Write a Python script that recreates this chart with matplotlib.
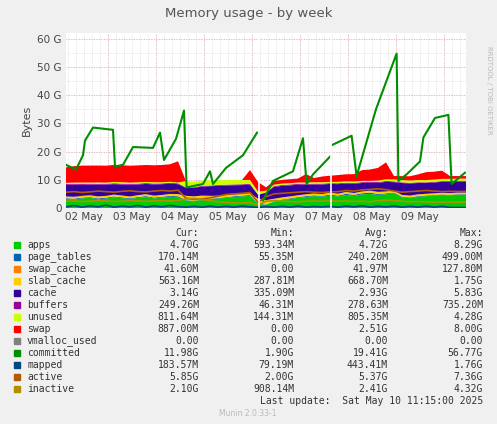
import numpy as np
import matplotlib
matplotlib.use("Agg")
import matplotlib.pyplot as plt
from matplotlib.ticker import MultipleLocator, FuncFormatter

# time in hours from Sat May 2 03:15; 4-hour samples for stacked fields
hours = list(range(0, 201, 4))
apps = [3.2, 3.0, 3.4, 3.6, 3.1, 3.3, 3.8, 3.5, 3.2, 3.6, 3.9, 3.4, 3.7, 4.0, 3.8, 2.6,
        2.4, 2.8, 3.1, 3.3, 3.6, 3.9, 4.1, 4.3, 1.5, 1.2, 2.2, 2.8, 3.2, 3.6, 3.9, 4.2,
        4.0, 4.4, 4.1, 4.6, 4.3, 4.8, 5.0, 4.6, 4.9, 5.2, 3.8, 3.6, 4.0, 4.2, 4.4, 4.6, 4.5, 4.7, 4.7]
page_tables = [0.25, 0.3, 0.28, 0.26, 0.3, 0.35, 0.3, 0.28, 0.25, 0.3, 0.32, 0.3, 0.28, 0.3, 0.35, 0.2,
               0.15, 0.18, 0.2, 0.22, 0.25, 0.28, 0.3, 0.3, 0.1, 0.08, 0.15, 0.2, 0.22, 0.25, 0.3, 0.28,
               0.3, 0.35, 0.3, 0.4, 0.35, 0.4, 0.45, 0.3, 0.28, 0.3, 0.2, 0.18, 0.2, 0.22, 0.2, 0.18, 0.17, 0.17, 0.17]
swap_cache = [0.05, 0.06, 0.04, 0.05, 0.06, 0.05, 0.04, 0.05, 0.06, 0.05, 0.04, 0.05, 0.06, 0.05, 0.1, 0.02,
              0.0, 0.01, 0.01, 0.02, 0.02, 0.03, 0.02, 0.05, 0.01, 0.0, 0.03, 0.05, 0.06, 0.08, 0.07, 0.05,
              0.04, 0.05, 0.06, 0.05, 0.04, 0.06, 0.08, 0.12, 0.06, 0.05, 0.04, 0.04, 0.05, 0.04, 0.04, 0.04, 0.04, 0.04, 0.04]
slab_cache = [0.6, 0.62, 0.58, 0.6, 0.65, 0.6, 0.62, 0.6, 0.58, 0.6, 0.65, 0.62, 0.6, 0.64, 0.7, 1.5,
              1.6, 1.4, 1.0, 0.8, 0.7, 0.65, 0.6, 0.6, 1.7, 1.5, 0.9, 0.7, 0.65, 0.6, 0.62, 0.6,
              0.6, 0.62, 0.6, 0.65, 0.62, 0.6, 0.64, 0.7, 0.62, 0.6, 0.6, 0.58, 0.6, 0.58, 0.57, 0.56, 0.56, 0.56, 0.56]
cache = [4.1, 4.3, 3.9, 3.8, 4.2, 4.0, 3.7, 3.9, 4.2, 3.8, 3.6, 4.0, 3.8, 3.6, 3.5, 2.8,
         3.0, 3.2, 3.4, 3.5, 3.4, 3.2, 3.1, 3.0, 1.4, 2.6, 4.2, 4.1, 3.9, 3.7, 3.4, 3.2,
         3.4, 3.1, 3.4, 3.0, 3.3, 3.0, 2.8, 3.2, 3.4, 3.0, 4.2, 4.3, 4.0, 3.8, 3.8, 3.9, 4.0, 3.9, 3.9]
buffers = [0.3, 0.28, 0.32, 0.3, 0.25, 0.3, 0.32, 0.3, 0.28, 0.3, 0.32, 0.3, 0.28, 0.3, 0.3, 0.2,
           0.22, 0.25, 0.26, 0.28, 0.3, 0.3, 0.28, 0.3, 0.1, 0.15, 0.3, 0.3, 0.32, 0.3, 0.28, 0.3,
           0.3, 0.28, 0.3, 0.3, 0.28, 0.3, 0.26, 0.3, 0.3, 0.28, 0.25, 0.25, 0.26, 0.25, 0.25, 0.25, 0.25, 0.25, 0.25]
unused = [0.4, 0.45, 0.5, 0.42, 0.48, 0.4, 0.45, 0.5, 0.42, 0.45, 0.4, 0.46, 0.42, 0.4, 0.3, 2.2,
          2.0, 1.9, 1.8, 1.7, 1.6, 1.6, 1.5, 1.4, 1.0, 0.6, 0.5, 0.5, 0.45, 0.5, 0.45, 0.5,
          0.5, 0.45, 0.5, 0.45, 0.5, 0.45, 0.4, 0.5, 0.6, 0.7, 0.8, 0.8, 0.8, 0.8, 0.8, 0.8, 0.8, 0.8, 0.8]
swap = [5.5, 5.8, 6.0, 6.0, 6.0, 6.0, 6.0, 6.0, 6.0, 6.0, 6.0, 6.0, 6.1, 6.2, 7.5, 0.0,
        0.0, 0.0, 0.0, 0.0, 0.0, 0.0, 0.0, 3.5, 3.4, 1.2, 1.3, 1.3, 1.4, 1.4, 3.0, 1.5,
        2.0, 2.2, 2.4, 2.5, 2.6, 3.8, 4.0, 4.5, 6.0, 1.2, 1.4, 1.5, 2.0, 2.8, 2.8, 2.9, 1.0, 0.9, 0.89]

# lines
active = [5.6, 5.8, 5.5, 5.7, 6.0, 5.8, 5.6, 5.9, 6.1, 5.8, 5.7, 6.0, 6.2, 6.0, 6.3, 3.5,
          3.0, 3.2, 3.6, 4.2, 4.8, 5.0, 5.2, 5.5, 2.0, 4.0, 5.0, 5.2, 5.4, 5.6, 5.8, 5.6,
          5.5, 5.7, 5.8, 6.2, 6.0, 6.4, 6.6, 6.8, 6.5, 6.0, 5.6, 5.8, 6.0, 6.2, 6.0, 5.8, 5.9, 5.85, 5.85]
inactive = [2.4, 2.5, 2.3, 2.4, 2.6, 2.5, 2.3, 2.4, 2.6, 2.5, 2.4, 2.5, 2.6, 2.5, 2.7, 3.2,
            3.4, 3.0, 2.6, 2.2, 2.0, 1.9, 1.8, 2.0, 1.0, 2.4, 2.6, 2.4, 2.3, 2.2, 2.4, 2.5,
            2.4, 2.6, 2.4, 2.5, 2.3, 2.4, 2.2, 2.6, 2.8, 2.6, 2.4, 2.2, 2.3, 2.2, 2.1, 2.1, 2.1, 2.1, 2.1]
mapped = [0.4, 0.9, 0.3, 0.8, 0.4, 1.0, 0.3, 0.7, 0.4, 0.9, 0.3, 0.8, 0.4, 0.9, 0.5, 0.3,
          0.6, 0.3, 0.7, 0.3, 0.6, 0.3, 0.7, 0.4, 0.2, 0.5, 0.3, 0.6, 0.3, 0.7, 0.3, 0.5,
          0.4, 0.6, 0.3, 0.7, 0.4, 0.8, 0.3, 0.6, 0.4, 0.7, 0.3, 0.6, 0.3, 0.7, 0.3, 0.6, 0.2, 0.2, 0.18]
vmalloc_used = [0.0] * len(hours)

# committed, read at its turning points
committed_hours = [0, 5, 8.5, 9.5, 13.5, 23.5, 24.5, 28.5, 33.5, 43.5, 47, 49, 55, 59, 60.3,
                   68.5, 72, 73.5, 80, 88.5, 95.5, 96.5, 98.5, 103.5, 113.5, 118.5, 120.3, 123.5,
                   132, 132.5, 133.3, 142.8, 145.3, 155, 165.3, 166.2, 170.3, 177, 178.7, 184.5,
                   191.2, 192.8, 199.5]
committed = [15.3, 13.6, 18.7, 23.9, 28.5, 27.7, 14.7, 15.3, 21.6, 21.3, 26.7, 17, 24.5, 34.5, 7.3,
             8.5, 13, 8.5, 14.2, 18.7, 26.7, np.nan, 2.7, 9.6, 13, 24.7, 8.5, 11.9,
             18.2, np.nan, 22.4, 25.6, 11.3, 35.0, 54.7, 9.6, 11.9, 16.5, 25, 31.9,
             33, 8.5, 12.5]
gap_hours = [96.5, 132.5]

names = ["apps", "page_tables", "swap_cache", "slab_cache", "cache", "buffers", "unused",
         "swap", "vmalloc_used", "committed", "mapped", "active", "inactive"]
colors = ["#00CC00", "#0066B3", "#FF8000", "#FFCC00", "#330099", "#990099", "#CCFF00",
          "#FF0000", "#808080", "#008F00", "#00487D", "#B35A00", "#B38F00"]
cur = ["4.70G", "170.14M", "41.60M", "563.16M", "3.14G", "249.26M", "811.64M", "887.00M",
       "0.00", "11.98G", "183.57M", "5.85G", "2.10G"]
mins = ["593.34M", "55.35M", "0.00", "287.81M", "335.09M", "46.31M", "144.31M", "0.00",
        "0.00", "1.90G", "79.19M", "2.00G", "908.14M"]
avgs = ["4.72G", "240.20M", "41.97M", "668.70M", "2.93G", "278.63M", "805.35M", "2.51G",
        "0.00", "19.41G", "443.41M", "5.37G", "2.41G"]
maxs = ["8.29G", "499.00M", "127.80M", "1.75G", "5.83G", "735.20M", "4.28G", "8.00G",
        "0.00", "56.77G", "1.76G", "7.36G", "4.32G"]
day_labels = ["02 May", "03 May", "04 May", "05 May", "06 May", "07 May", "08 May", "09 May"]

W, H = 497, 424
fig = plt.figure(figsize=(W / 100, H / 100), dpi=100, facecolor="#F0F0F0")
ax = fig.add_axes([66 / W, 1 - 208 / H, 400 / W, 175 / H], facecolor="white")

ax.stackplot(hours, apps, page_tables, swap_cache, slab_cache, cache, buffers, unused, swap,
             colors=colors[:8], linewidth=0)
ax.plot(hours, vmalloc_used, color=colors[8], lw=1)
ax.plot(hours, mapped, color=colors[10], lw=1.2)
ax.plot(hours, active, color=colors[11], lw=1.2)
ax.plot(hours, inactive, color=colors[12], lw=1.2)
ax.plot(committed_hours, committed, color=colors[9], lw=1.5)
for g in gap_hours:
    ax.axvline(g, color="white", lw=1.2)

ax.set_xlim(0, 200)
ax.set_ylim(0, 62)
# midnight of May 3 is 20.75 h after start
midnights = [20.75 + 24 * i for i in range(8)]
ax.set_xticks(midnights)
ax.set_xticklabels([])
ax.set_xticks([m - 12 for m in midnights], minor=True)
ax.set_xticklabels(day_labels, minor=True)
ax.set_yticks(range(0, 61, 10))
ax.yaxis.set_major_formatter(FuncFormatter(lambda v, p: "0" if v == 0 else f"{int(v)} G"))
ax.yaxis.set_minor_locator(MultipleLocator(5))
ax.tick_params(which="both", length=0, labelsize=7.5, colors="#444444", pad=3)
for m in np.arange(0.75, 200, 4):
    ax.axvline(m, color="#DDDDDD", lw=0.5, ls=(0, (1, 1)), zorder=0.5)
for v in range(5, 61, 5):
    ax.axhline(v, color="#DDDDDD", lw=0.5, ls=(0, (1, 1)), zorder=0.5)
for m in midnights:
    ax.axvline(m, color="#E8A0A0", lw=0.6, ls=(0, (1, 2)), zorder=0.6)
for v in range(10, 61, 10):
    ax.axhline(v, color="#E8A0A0", lw=0.6, ls=(0, (1, 2)), zorder=0.6)
for s in ax.spines.values():
    s.set_visible(False)
ax.set_ylabel("Bytes", fontsize=8, color="#444444")

fig.text(0.5, 1 - 13 / H, "Memory usage - by week", ha="center", va="center",
         fontsize=9.5, color="#555555")
fig.text(489 / W, 1 - 90 / H, "RRDTOOL / TOBI OETIKER", rotation=270, ha="center",
         va="center", fontsize=5, color="#BBBBBB")

mono = "DejaVu Sans Mono"
fs = 7
def ty(y):
    return 1 - y / H
for x, lab in [(199, "Cur:"), (294, "Min:"), (388, "Avg:"), (483, "Max:")]:
    fig.text(x / W, ty(233), lab, ha="right", va="center", family=mono, fontsize=fs, color="#333333")
for i, n in enumerate(names):
    y = 245 + 12 * i
    fig.patches.append(plt.Rectangle((14 / W, ty(y + 3)), 6 / W, 6 / H, color=colors[i],
                                     transform=fig.transFigure, figure=fig))
    fig.text(27 / W, ty(y), n, ha="left", va="center", family=mono, fontsize=fs, color="#333333")
    for x, col in [(199, cur), (294, mins), (388, avgs), (483, maxs)]:
        fig.text(x / W, ty(y), col[i], ha="right", va="center", family=mono, fontsize=fs,
                 color="#333333")
fig.text(483 / W, ty(401), "Last update:  Sat May 10 11:15:00 2025", ha="right", va="center",
         family=mono, fontsize=fs, color="#333333")
fig.text(248 / W, ty(413), "Munin 2.0.33-1", ha="center", va="center", fontsize=5.5,
         color="#BBBBBB")

fig.savefig("out.png", dpi=100, facecolor=fig.get_facecolor())
